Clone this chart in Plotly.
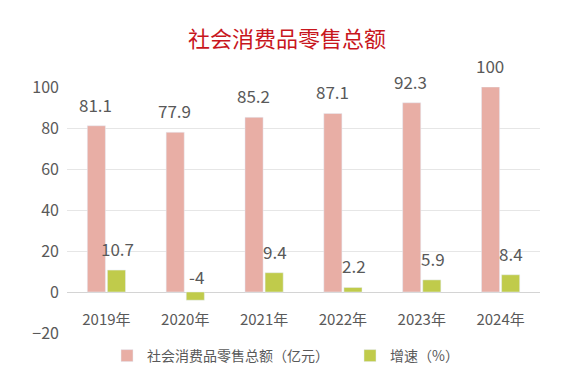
import plotly.graph_objects as go

years = ["2019年", "2020年", "2021年", "2022年", "2023年", "2024年"]
sales = [81.1, 77.9, 85.2, 87.1, 92.3, 100]
growth = [10.7, -4, 9.4, 2.2, 5.9, 8.4]

name_sales = "社会消费品零售总额（亿元）"
name_growth = "增速（%）"
pink = "#E8AEA5"
green = "#C0CB4B"
txt = "#595959"
font_family = "Noto Sans CJK SC, Noto Sans, sans-serif"

# page body has an 8px margin, so the figure is drawn 8px in and 8px down
W, H = 566, 382
L, R, T, B = 59, 34, 79, 57
pw, ph = W - L - R, H - T - B

fig = go.Figure()
fig.add_trace(go.Bar(x=years, y=sales, name=name_sales, marker_color=pink,
                     offsetgroup="a", legend="legend"))
fig.add_trace(go.Bar(x=years, y=growth, name=name_growth, marker_color=green,
                     offsetgroup="b", legend="legend2"))

off = 0.255
for i, (s, g) in enumerate(zip(sales, growth)):
    fig.add_annotation(x=i - off / 2 - 0.01, y=s, text=str(s), showarrow=False,
                       yanchor="bottom", yshift=7, xref="x", yref="y",
                       font=dict(size=17, color=txt, family=font_family))
    fig.add_annotation(x=i + off / 2 + 0.01, y=max(g, 0), text=str(g), showarrow=False,
                       yanchor="bottom", yshift=7 if g > 0 else 1, xref="x", yref="y",
                       font=dict(size=17, color=txt, family=font_family))

fig.add_annotation(text="社会消费品零售总额", showarrow=False,
                   x=(279 - L) / pw, xref="paper", y=1 + (T - 29) / ph, yref="paper",
                   xanchor="center", yanchor="middle",
                   font=dict(size=22, color="#C8161D", family=font_family))

leg_y = -(356 - 8 - (H - B)) / ph
leg_common = dict(orientation="h", xanchor="left", y=leg_y, yanchor="middle",
                  bgcolor="rgba(0,0,0,0)", font=dict(size=14, color=txt))

fig.update_layout(
    width=W, height=H,
    margin=dict(l=L, r=R, t=T, b=B, autoexpand=False),
    paper_bgcolor="white", plot_bgcolor="white",
    barmode="group", bargap=0.49, bargroupgap=0.1,
    font=dict(family=font_family, color=txt, size=14),
    legend=dict(x=(99 - L) / pw, **leg_common),
    legend2=dict(x=(342 - L) / pw, **leg_common),
    showlegend=True,
)

fig.update_yaxes(range=[-20, 100], dtick=20, showgrid=True, gridcolor="#E6E6E6",
                 gridwidth=1, zeroline=True, zerolinecolor="#D4D4D4", zerolinewidth=1,
                 tickfont=dict(size=16, color=txt), ticks="", ticklabelstandoff=7,
                 fixedrange=True, automargin=False)
fig.update_xaxes(anchor="free", position=1 / 6, showline=False, showgrid=False,
                 ticks="outside", ticklen=14, tickcolor="rgba(0,0,0,0)",
                 tickfont=dict(size=15, color=txt), fixedrange=True, automargin=False)

fig.write_html("out.html")
